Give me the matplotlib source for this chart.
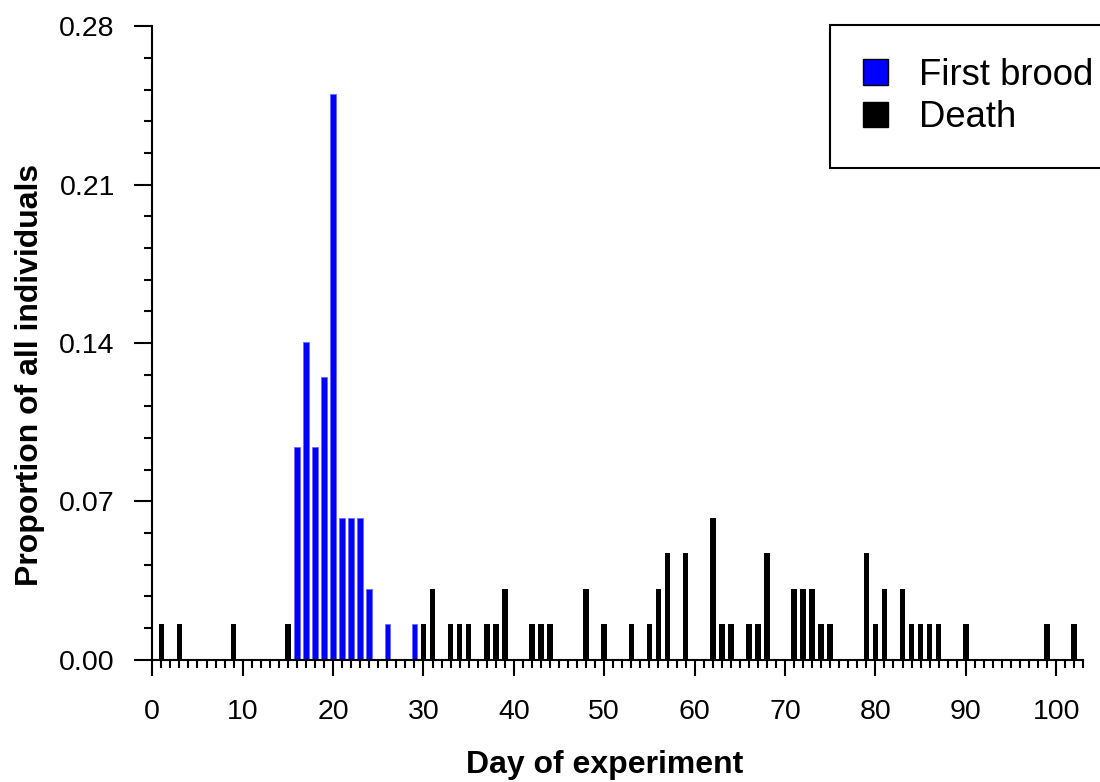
import matplotlib
matplotlib.use("Agg")
import matplotlib.pyplot as plt
import matplotlib.patches as mpatches
from matplotlib.ticker import MultipleLocator, FormatStrFormatter

plt.rcParams['font.family'] = ['Liberation Sans', 'DejaVu Sans']

# ---------------- DATA ----------------
# day of first brood, as proportion of all individuals
brood_days = [16, 17, 18, 19, 20, 21, 22, 23, 24, 26, 29]
brood_prop = [0.0938, 0.1406, 0.0938, 0.125, 0.25, 0.0625, 0.0625, 0.0625,
              0.0313, 0.0156, 0.0156]

# day of death, as proportion of all individuals
death_days = [1, 3, 9, 15, 30, 31, 33, 34, 35, 37, 38, 39, 42, 43, 44, 48,
              50, 53, 55, 56, 57, 59, 62, 63, 64, 66, 67, 68, 71, 72, 73, 74,
              75, 79, 80, 81, 83, 84, 85, 86, 87, 90, 99, 102]
death_prop = [0.0156, 0.0156, 0.0156, 0.0156, 0.0156, 0.0313, 0.0156, 0.0156,
              0.0156, 0.0156, 0.0156, 0.0313, 0.0156, 0.0156, 0.0156, 0.0313,
              0.0156, 0.0156, 0.0156, 0.0313, 0.0469, 0.0469, 0.0625, 0.0156,
              0.0156, 0.0156, 0.0156, 0.0469, 0.0313, 0.0313, 0.0313, 0.0156,
              0.0156, 0.0469, 0.0156, 0.0313, 0.0313, 0.0156, 0.0156, 0.0156,
              0.0156, 0.0156, 0.0156, 0.0156]

y_ticks = [0.0, 0.07, 0.14, 0.21, 0.28]
x_ticks = [0, 10, 20, 30, 40, 50, 60, 70, 80, 90, 100]

# ---------------- FIGURE ----------------
fig = plt.figure(figsize=(11, 7.82), dpi=100)
ax = fig.add_axes([152.3 / 1100, 122.5 / 782, 931 / 1100, 633 / 782])

ax.bar(brood_days, brood_prop, width=0.62, color="#0000ff",
       edgecolor="#6a6aff", linewidth=0.6)
ax.bar(death_days, death_prop, width=0.62, color="black")

ax.set_xlim(0, 103)
ax.set_ylim(0, 0.28)

ax.spines['top'].set_visible(False)
ax.spines['right'].set_visible(False)
for side in ['left', 'bottom']:
    ax.spines[side].set_linewidth(1.5)

ax.set_yticks(y_ticks)
ax.yaxis.set_major_formatter(FormatStrFormatter('%.2f'))
ax.yaxis.set_minor_locator(MultipleLocator(0.014))
ax.set_xticks(x_ticks)
ax.xaxis.set_minor_locator(MultipleLocator(1))

ax.tick_params(axis='y', which='major', direction='out', length=13, width=1.5,
               pad=14, labelsize=20.5)
ax.tick_params(axis='y', which='minor', direction='out', length=6, width=1.5)
ax.tick_params(axis='x', which='major', direction='out', length=11.5, width=1.5,
               pad=17, labelsize=20.5)
ax.tick_params(axis='x', which='minor', direction='out', length=5.4, width=1.5)

ax.set_xlabel("Day of experiment", fontsize=23, fontweight='bold')
ax.set_ylabel("Proportion of all individuals", fontsize=23, fontweight='bold')
ax.xaxis.set_label_coords(50 / 103, -0.166)
ax.xaxis.label.set_va('center')
ax.yaxis.set_label_coords(-0.131, 0.45)
ax.yaxis.label.set_va('center')

# legend sits in the top-right corner, running off the edge
handles = [mpatches.Patch(facecolor="#0000ff", edgecolor="black", linewidth=1),
           mpatches.Patch(facecolor="black", edgecolor="black", linewidth=1)]
leg = fig.legend(handles, ["First brood", "Death"], loc='upper left',
                 bbox_to_anchor=(830 / 1100, 1 - 25 / 782),
                 bbox_transform=fig.transFigure, borderaxespad=0,
                 fontsize=26.3, frameon=True, fancybox=False, framealpha=1,
                 edgecolor='black', handlelength=0.7, handleheight=0.7,
                 handletextpad=0.85, labelspacing=0.2, borderpad=0.9)
leg.get_frame().set_linewidth(1.5)

fig.savefig("out.png", dpi=100)
